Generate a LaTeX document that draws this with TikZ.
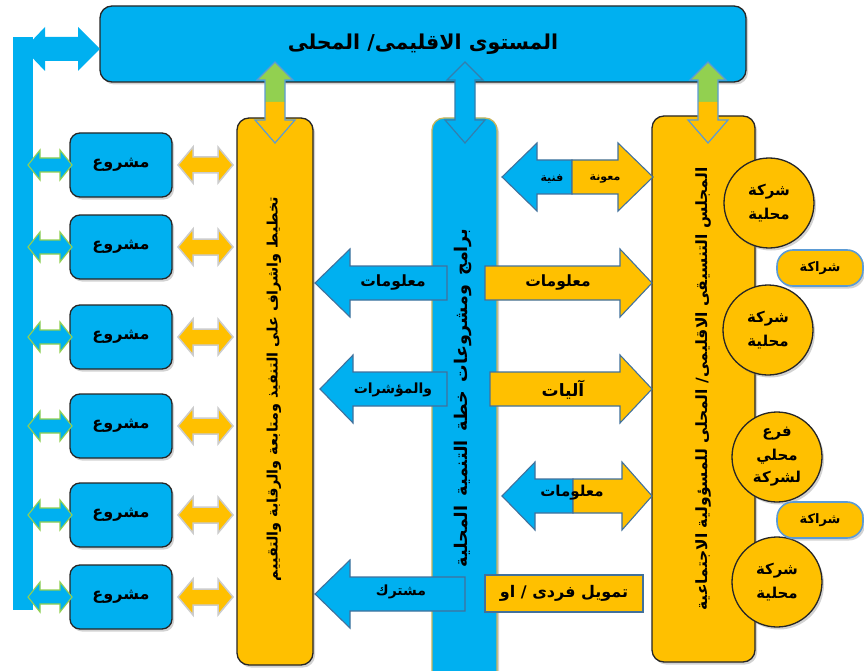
\documentclass[tikz,border=0pt]{standalone}
\usepackage{fontspec}
\newfontfamily\ar[Script=Arabic]{DejaVu Sans}
\TeXXeTstate=1
\usetikzlibrary{shadows}
\definecolor{cblue}{RGB}{0,176,240}
\definecolor{corange}{RGB}{255,192,0}
\definecolor{cgreen}{RGB}{146,208,80}
\definecolor{cdark}{RGB}{38,38,38}
\definecolor{cedge}{RGB}{65,113,156}
\definecolor{cpill}{RGB}{91,155,213}
\definecolor{colive}{RGB}{200,180,90}
\newcommand\RL[1]{\beginR #1\endR}
% style, tip x, base x, end x, centre y
\newcommand\blockarrow[5]{%
  \path[#1] (#2,#5) -- (#3,#5-34) -- (#3,#5-17) -- (#4,#5-17) -- (#4,#5+17) -- (#3,#5+17) -- (#3,#5+34) -- cycle;}
% style, x1, x2, cy, head length, shaft half, head half
\newcommand\dblh[7]{%
  \path[#1] (#2,#4) -- ({#2+#5},{#4-#7}) -- ({#2+#5},{#4-#6}) -- ({#3-#5},{#4-#6}) -- ({#3-#5},{#4-#7}) -- (#3,#4) -- ({#3-#5},{#4+#7}) -- ({#3-#5},{#4+#6}) -- ({#2+#5},{#4+#6}) -- ({#2+#5},{#4+#7}) -- cycle;}
% x, upper fill, lower fill, edge colour
\newcommand\vdbl[4]{%
  \fill[#2] (#1,62) -- ({#1+18},80) -- ({#1+10},80) -- ({#1+10},102) -- ({#1-10},102) -- ({#1-10},80) -- ({#1-18},80) -- cycle;
  \fill[#3] ({#1-10},102) -- ({#1+10},102) -- ({#1+10},120) -- ({#1+20},120) -- (#1,143) -- ({#1-20},120) -- ({#1-10},120) -- cycle;
  \draw[#4, line width=1.2] (#1,62) -- ({#1+18},80) -- ({#1+10},80) -- ({#1+10},120) -- ({#1+20},120) -- (#1,143) -- ({#1-20},120) -- ({#1-10},120) -- ({#1-10},80) -- ({#1-18},80) -- cycle;}
\tikzset{
  arfont/.style={font=\ar\bfseries\fontsize{#1}{#1}\selectfont},
  lbl/.style={arfont=14, text=black, inner sep=0pt},
  shade/.style={drop shadow={opacity=0.35, shadow xshift=2pt, shadow yshift=-2.5pt}},
  bluebox/.style={draw=cdark, line width=1.3, fill=cblue, rounded corners=10, shade},
  orangecol/.style={draw=cdark, line width=1.3, fill=corange, rounded corners=12, shade},
  bluecol/.style={draw=colive, line width=1.3, fill=cblue, rounded corners=12, shade},
  partner/.style={circle, draw=cdark, line width=1.3, fill=corange, minimum size=90, inner sep=0pt, shade, arfont=15, align=center},
  pill/.style={draw=cpill, line width=1.6, fill=corange, rounded corners=16, minimum width=86, minimum height=36, arfont=13, shade},
  bluearrow/.style={fill=cblue, draw=cedge, line width=1.1},
  orangearrow/.style={fill=corange, draw=cedge, line width=1.1},
  linkblue/.style={fill=cblue, draw=cgreen, line width=1.1},
  linkorange/.style={fill=corange, draw=black!20, line width=1.5},
  coltext/.style={inner sep=0pt, rotate=90},
}
\begin{document}
\begin{tikzpicture}[x=1pt,y=-1pt]
\path[use as bounding box, clip] (0,0) rectangle (864,671);
\fill[white] (0,0) rectangle (864,671);

% top bar
\node[bluebox, rounded corners=12, minimum width=646, minimum height=76, arfont=20.5] (top) at (423,44) {\RL{المستوى الاقليمى/ المحلى}};

% left blue bracket
\fill[cblue] (13,37) rectangle (33,610);
\fill[cblue] (24,49) -- (45,27) -- (45,37) -- (78,37) -- (78,27) -- (100,49) -- (78,71) -- (78,61) -- (45,61) -- (45,71) -- cycle;
\coordinate (brtop) at (100,49);

% columns
\node[orangecol, minimum width=76, minimum height=547] (lcol) at (275,391.5) {};
\node[bluecol, minimum width=65, minimum height=580] (mcol) at (464.5,408) {};
\node[orangecol, minimum width=103, minimum height=546] (rcol) at (703.5,389) {};

\node[coltext, arfont=14.4] (ltext) at (274,389) {\RL{تخطيط واشراف على التنفيذ ومتابعة والرقابة والتقييم}};
\node[coltext, arfont=17.5] (mtext) at (463,398) {\spaceskip=9pt plus 2pt\relax\RL{برامج ومشروعات خطة التنمية المحلية}};
\node[coltext, arfont=15.5] (rtext) at (703,389) {\RL{المجلس التنسيقى الاقليمى/ المحلى للمسؤولية الاجتماعية}};

% vertical links top bar <-> columns
\vdbl{275}{cgreen}{corange}{cpill}
\vdbl{465}{cblue}{cblue}{cedge!80!cblue}
\vdbl{708}{cgreen}{corange}{cpill}

% projects
\foreach \cy [count=\i] in {165,247,337,426,515,597} {
  \node[bluebox, minimum width=102, minimum height=64, arfont=16] (p\i) at (121,\cy) {\RL{مشروع}};
  \dblh{linkblue}{28}{72}{\cy}{12}{7}{15}
  \dblh{linkorange}{178}{233}{\cy}{15}{8}{18}
}

% row A: double arrow
\blockarrow{bluearrow}{502}{537}{572}{177}
\blockarrow{orangearrow}{653}{618}{572}{177}
\node[lbl, arfont=11] (fanniya) at (552,179) {\RL{فنية}};
\node[lbl, arfont=11] (maouna) at (605,179) {\RL{معونة}};

% row B
\blockarrow{bluearrow}{315}{350}{447}{283}
\blockarrow{orangearrow}{652}{620}{485}{283}
\node[lbl, arfont=15.5] (infoL) at (393,283) {\RL{معلومات}};
\node[lbl, arfont=15.5] (infoR) at (558,283) {\RL{معلومات}};

% row C
\blockarrow{bluearrow}{320}{353}{447}{389}
\blockarrow{orangearrow}{652}{620}{490}{389}
\node[lbl] (indic) at (393,390) {\RL{والمؤشرات}};
\node[lbl, arfont=17] (mech) at (563,390) {\RL{آليات}};

% row D: double arrow
\blockarrow{bluearrow}{502}{535}{573}{496}
\blockarrow{orangearrow}{652}{622}{573}{496}
\node[lbl, arfont=15] (infoD) at (572,493) {\RL{معلومات}};

% row E
\blockarrow{bluearrow}{315}{350}{465}{594}
\node[lbl] (joint) at (401,592) {\RL{مشترك}};
\node[draw=cedge, line width=1.1, fill=corange, minimum width=158, minimum height=37, arfont=16] (fund) at (564,593.5) {\RL{تمويل فردى / او}};

% partners
\node[partner] (c1) at (769,203) {\RL{شركة}\\[8pt]\RL{محلية}};
\node[partner] (c2) at (768,330) {\RL{شركة}\\[8pt]\RL{محلية}};
\node[partner] (c3) at (777,457) {\RL{فرع}\\[8pt]\RL{محلي}\\[6pt]\RL{لشركة}};
\node[partner] (c4) at (777,582) {\RL{شركة}\\[8pt]\RL{محلية}};
\node[pill] (s1) at (820,268) {\RL{شراكة}};
\node[pill] (s2) at (820,520) {\RL{شراكة}};
\end{tikzpicture}
\end{document}
